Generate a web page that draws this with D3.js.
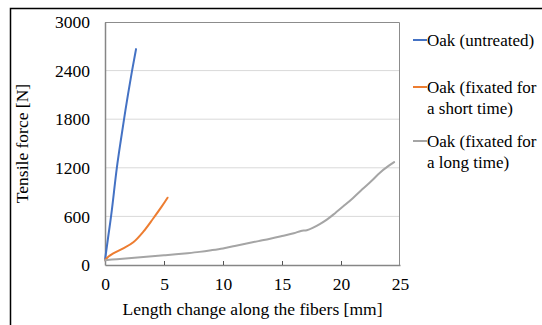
<!DOCTYPE html>
<html>
<head>
<meta charset="utf-8">
<script src="https://cdn.jsdelivr.net/npm/d3@7"></script>
<style>
  html, body { margin: 0; padding: 0; background: #fff; }
  svg { display: block; font-family: "Liberation Serif", "Times New Roman", serif; }
</style>
</head>
<body>
<script>
// values: [length change mm, tensile force N]
const untreated = [[0, 60], [0.25, 330], [0.54, 620], [0.76, 900], [0.99, 1200], [1.3, 1500], [1.61, 1800], [1.95, 2110], [2.29, 2400], [2.63, 2665]];
const shortTime = [[0, 60], [0.3, 105], [0.7, 144], [1.55, 206], [2.4, 280], [3.25, 411], [4.1, 577], [4.8, 720], [5.3, 831]];
const longTime = [[0, 60], [1, 72], [2, 84], [3, 96], [4, 108], [5, 120], [6, 132], [7, 146], [8, 162], [9, 182], [10, 205], [11, 235], [12, 265], [13, 295], [14, 325], [15, 358], [16, 392], [16.6, 420], [17.1, 430], [17.6, 458], [18.2, 505], [18.8, 560], [19.5, 640], [20.2, 725], [21, 825], [21.8, 935], [22.6, 1040], [23.3, 1140], [24, 1220], [24.5, 1270]];

const seriesNames = [["Oak (untreated)"], ["Oak (fixated for", "a short time)"], ["Oak (fixated for", "a long time)"]];
const seriesColors = ["#4472C4", "#ED7D31", "#A5A5A5"];
const yTicks = [0, 600, 1200, 1800, 2400, 3000];
const xTicks = [0, 5, 10, 15, 20, 25];

function main() {
  const width = 542;
  const height = 325;
  const plot = { left: 105, right: 400, top: 22, bottom: 265 };
  const fontSize = 17.5;

  const x = d3.scaleLinear().domain([0, 25]).range([plot.left, plot.right]);
  const y = d3.scaleLinear().domain([0, 3000]).range([plot.bottom, plot.top]);

  const svg = d3.create("svg")
    .attr("width", width)
    .attr("height", height);

  // outer frame
  svg.append("rect")
    .attr("x", 10.5).attr("y", 8.5)
    .attr("width", 700).attr("height", 500)
    .attr("fill", "none")
    .attr("stroke", "#000")
    .attr("stroke-width", 1.5);

  // gridlines
  svg.append("g")
    .selectAll("line")
    .data(yTicks.filter(d => d > 0 && d < 3000))
    .join("line")
    .attr("x1", plot.left).attr("x2", plot.right)
    .attr("y1", d => y(d)).attr("y2", d => y(d))
    .attr("stroke", "#D9D9D9")
    .attr("stroke-width", 1);

  // plot border (top / right)
  svg.append("path")
    .attr("d", `M${plot.left},${plot.top + 0.5}H${plot.right - 0.5}V${plot.bottom}`)
    .attr("fill", "none")
    .attr("stroke", "#8C8C8C")
    .attr("stroke-width", 1);

  // y axis
  const gy = svg.append("g")
    .attr("transform", `translate(${plot.left},0)`)
    .call(d3.axisLeft(y).tickValues(yTicks).tickFormat(d3.format("d")).tickSize(0).tickPadding(15));
  gy.select(".domain").attr("stroke", "#868686").attr("stroke-width", 1.5);
  gy.selectAll("text").attr("font-size", fontSize).attr("font-family", "Liberation Serif").attr("fill", "#000");

  // x axis, ticks pointing inward
  const gx = svg.append("g")
    .attr("transform", `translate(0,${plot.bottom})`)
    .call(d3.axisBottom(x).tickValues(xTicks).tickSizeInner(-4).tickSizeOuter(0).tickPadding(13));
  gx.select(".domain").attr("stroke", "#868686").attr("stroke-width", 1.5);
  gx.selectAll(".tick line").attr("stroke", "#555");
  gx.selectAll(".tick").filter(d => d === 0 || d === 25).select("line").remove();
  gx.selectAll("text").attr("font-size", fontSize).attr("font-family", "Liberation Serif").attr("fill", "#000");

  // axis titles
  svg.append("text")
    .attr("x", (plot.left + plot.right) / 2)
    .attr("y", 315)
    .attr("text-anchor", "middle")
    .attr("font-size", fontSize)
    .text("Length change along the fibers [mm]");

  svg.append("text")
    .attr("transform", `translate(28,${(plot.top + plot.bottom) / 2}) rotate(-90)`)
    .attr("text-anchor", "middle")
    .attr("font-size", fontSize)
    .text("Tensile force [N]");

  // series
  const curves = [d3.curveBasis, d3.curveCatmullRom, d3.curveCatmullRom];
  [untreated, shortTime, longTime].forEach((data, i) => {
    const line = d3.line()
      .x(d => x(d[0]))
      .y(d => y(d[1]))
      .curve(curves[i]);
    svg.append("path")
      .attr("d", line(data))
      .attr("fill", "none")
      .attr("stroke", seriesColors[i])
      .attr("stroke-width", 2)
      .attr("stroke-linecap", "round");
  });

  // legend
  const legendY = [40, 87, 141];
  const legend = svg.append("g");
  seriesNames.forEach((lines, i) => {
    legend.append("line")
      .attr("x1", 413).attr("x2", 427)
      .attr("y1", legendY[i]).attr("y2", legendY[i])
      .attr("stroke", seriesColors[i])
      .attr("stroke-width", 2);
    lines.forEach((t, j) => {
      legend.append("text")
        .attr("x", 427)
        .attr("y", legendY[i] + 6 + j * 21)
        .attr("font-size", 17)
        .text(t);
    });
  });

  document.body.appendChild(svg.node());
}

main();
</script>
</body>
</html>
